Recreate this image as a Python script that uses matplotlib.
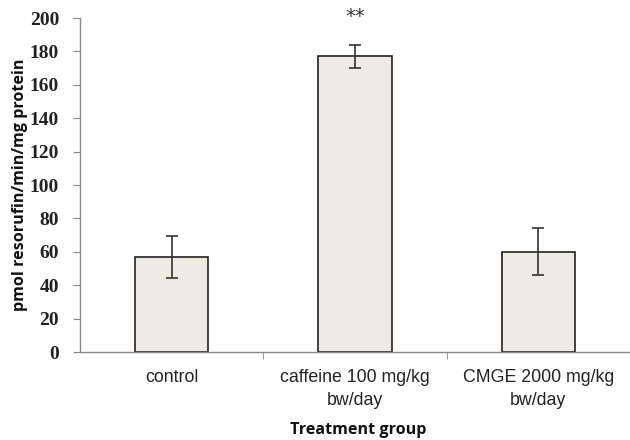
import matplotlib
matplotlib.use("Agg")
import matplotlib.pyplot as plt
import numpy as np

categories = ["control", "caffeine 100 mg/kg\nbw/day", "CMGE 2000 mg/kg\nbw/day"]
values = [57, 177, 60]
errors = [12.5, 7, 14]
annotations = ["", "**", ""]
yticks = [0, 20, 40, 60, 80, 100, 120, 140, 160, 180, 200]

fig = plt.figure(figsize=(6.3, 4.4), dpi=100)
ax = fig.add_axes([80/630, 1-352/440, 1-80/630, (352-18)/440])

x = np.arange(len(categories))
ax.bar(x, values, width=0.40, color="#EEECE1", edgecolor="#222222", linewidth=1.2, zorder=2)
ax.errorbar(x, values, yerr=errors, fmt="none", ecolor="#333333", elinewidth=1.2,
            capsize=4, capthick=1.2, zorder=3)
for xi, v, e, a in zip(x, values, errors, annotations):
    if a:
        ax.text(xi, 201, a, ha="center", va="center", fontsize=14, color="#333333")

ax.set_xlim(-0.5, 2.5 - 5/185)
ax.set_ylim(0, 200)
ax.set_yticks(yticks)
ax.set_yticklabels([str(t) for t in yticks], fontfamily="Liberation Serif",
                   fontweight="bold", fontsize=14, color="#222222")
ax.set_xticks(x)
ax.set_xticklabels(categories, fontfamily="Liberation Sans", fontsize=12.8,
                   linespacing=1.45, color="#222222")
ax.set_xticks([0.5, 1.5, 2.5], minor=True)
ax.tick_params(axis="x", which="major", length=0, pad=12)
ax.tick_params(axis="x", which="minor", length=5, color="#888888", direction="out")
ax.tick_params(axis="y", length=5, color="#888888", direction="out", pad=10)

for s in ["top", "right"]:
    ax.spines[s].set_visible(False)
for s in ["left", "bottom"]:
    ax.spines[s].set_color("#888888")
    ax.spines[s].set_linewidth(1.0)

ax.set_ylabel("pmol resorufin/min/mg protein", fontfamily="Open Sans", fontweight="bold",
              fontsize=11.6, color="#111111", va="center")
ax.yaxis.set_label_coords(-60/550, 0.5)
ax.set_xlabel("Treatment group", fontfamily="Open Sans", fontweight="bold", fontsize=11.6,
              color="#111111", va="center")
ax.xaxis.set_label_coords((358-80)/550, -(430-352)/334)

fig.savefig("out.png", dpi=100)
